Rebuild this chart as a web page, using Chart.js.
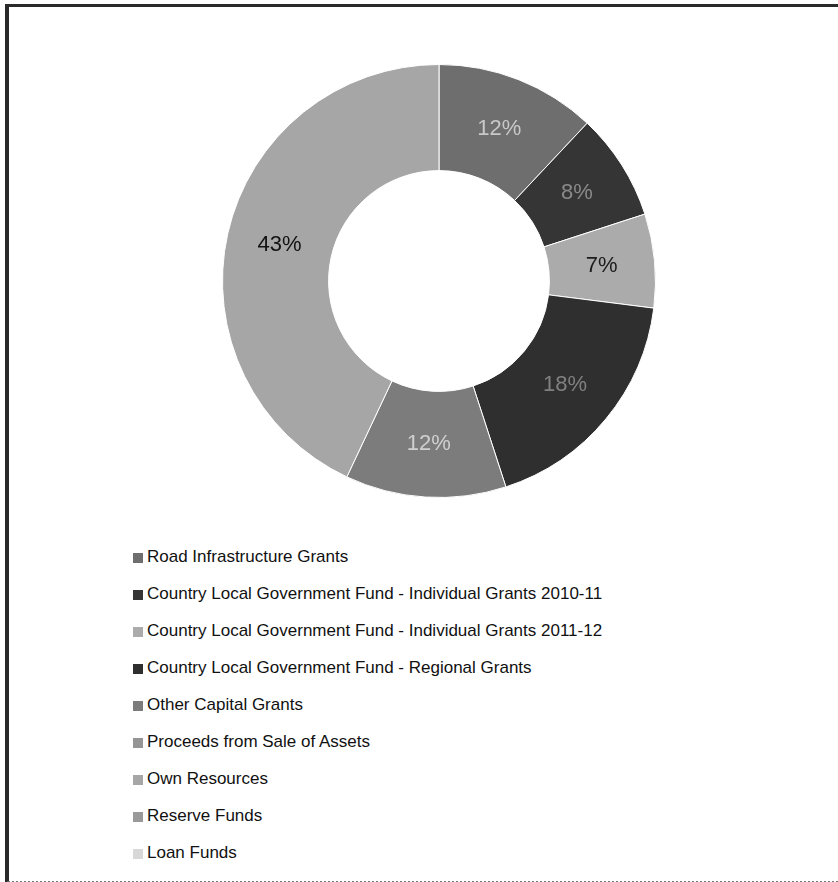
<!DOCTYPE html>
<html>
<head>
<meta charset="utf-8">
<script src="https://cdn.jsdelivr.net/npm/chart.js@4/dist/chart.umd.min.js"></script>
<style>
  html, body { margin:0; padding:0; background:#fff; }
  body { width:838px; height:882px; position:relative; overflow:hidden; font-family:"Liberation Sans", Arial, sans-serif; }
  #frame { position:absolute; left:5px; top:4px; width:840px; height:874px; border-left:4px solid #2a2a2a; border-top:3px solid #2a2a2a; border-bottom:2px dotted #777; }
  #chartBox { position:absolute; left:0; top:0; width:838px; height:520px; }
  #legend { position:absolute; left:133px; top:538px; }
  .legend-row { height:37px; line-height:37px; font-size:17px; color:#111; white-space:nowrap; }
  .legend-box { display:inline-block; width:10px; height:10px; margin-right:4px; vertical-align:-1px; }
</style>
</head>
<body>
<div id="frame"></div>
<div id="chartBox"><canvas id="chart"></canvas></div>
<div id="legend"></div>
<script>
const $ = id => document.getElementById(id);

const categories = [
  'Road Infrastructure Grants',
  'Country Local Government Fund - Individual Grants 2010-11',
  'Country Local Government Fund - Individual Grants 2011-12',
  'Country Local Government Fund - Regional Grants',
  'Other Capital Grants',
  'Proceeds from Sale of Assets',
  'Own Resources',
  'Reserve Funds',
  'Loan Funds'
];
const shares = [12, 8, 7, 18, 12, 0, 43, 0, 0];
const sliceColors = ['#6e6e6e', '#353535', '#ababab', '#2f2f2f', '#7c7c7c', '#959595', '#a6a6a6', '#9a9a9a', '#d8d8d8'];
const textColors = ['#c8c8c8', '#8a8a8a', '#1a1a1a', '#808080', '#d0d0d0', '#222', '#111', '#222', '#222'];

// percent labels in the middle of each ring segment
const sliceLabels = {
  id:'sliceLabels',
  afterDatasetsDraw(chart) {
    const ctx = chart.ctx;
    const meta = chart.getDatasetMeta(0);
    ctx.save();
    ctx.font = '22px "Liberation Sans", Arial, sans-serif';
    ctx.textAlign = 'center';
    ctx.textBaseline = 'middle';
    meta.data.forEach((arc, i) => {
      if (!shares[i]) return;
      const p = arc.tooltipPosition();
      ctx.fillStyle = textColors[i];
      ctx.fillText(`${shares[i]}%`, p.x, p.y);
    });
    ctx.restore();
  }
};

const chart = new Chart($('chart'), {
  type:'doughnut',
  data:{
    labels:categories,
    datasets:[{data:shares, backgroundColor:sliceColors, borderColor:'#fff', borderWidth:1}]
  },
  options:{
    responsive:true,
    maintainAspectRatio:false,
    animation:false,
    cutout:'51%',
    layout:{padding:{top:64, bottom:22, left:40, right:0}},
    plugins:{legend:{display:false}, tooltip:{enabled:false}}
  },
  plugins:[sliceLabels]
});

const legend = $('legend');
categories.forEach((name, i) => {
  const row = document.createElement('div');
  row.className = 'legend-row';
  row.innerHTML = `<span class="legend-box" style="background:${sliceColors[i]}"></span>${name}`;
  legend.appendChild(row);
});
</script>
</body>
</html>
